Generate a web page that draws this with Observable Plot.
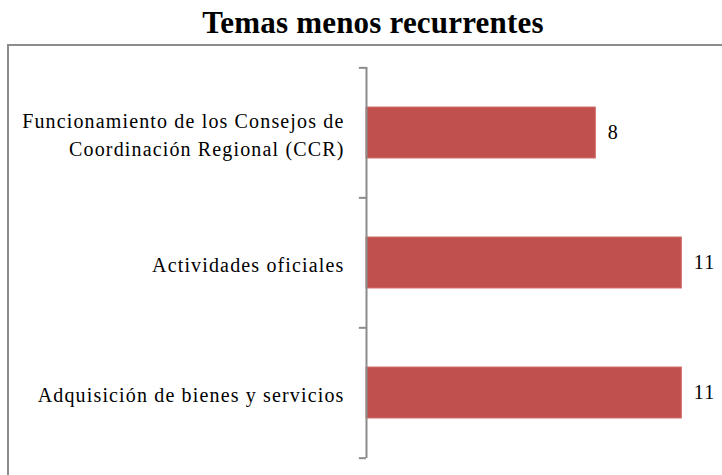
<!DOCTYPE html>
<html>
<head>
<meta charset="utf-8">
<script src="https://cdn.jsdelivr.net/npm/d3@7"></script>
<script src="https://cdn.jsdelivr.net/npm/@observablehq/plot@0.6"></script>
<style>
  html, body { margin: 0; padding: 0; background: #fff; }
  #wrap { position: relative; width: 722px; height: 475px; overflow: hidden; font-family: "Liberation Serif", serif; }
  #title { position: absolute; top: 5px; left: 12px; width: 722px; text-align: center; font-weight: bold; font-size: 31px; color: #000; line-height: 36px; letter-spacing: 0.2px; }
  #frame { position: absolute; left: 7px; top: 44px; width: 800px; height: 600px; border-left: 2px solid #8c8c8c; border-top: 2px solid #8c8c8c; box-sizing: border-box; }
  #chart { position: absolute; left: 0; top: 45px; }
</style>
</head>
<body>
<div id="wrap">
  <div id="title">Temas menos recurrentes</div>
  <div id="frame"></div>
  <div id="chart"></div>
</div>
<script>
const categories = [
  "Funcionamiento de los Consejos de\nCoordinación Regional (CCR)",
  "Actividades oficiales",
  "Adquisición de bienes y servicios"
];
const values = [8, 11, 11];

const data = categories.map((c, i) => ({ tema: c, n: values[i] }));

const H = 430;
const mTop = 22, mBottom = 17;
const step = (H - mTop - mBottom) / categories.length;

const chart = Plot.plot({
  width: 722,
  height: H,
  marginLeft: 366,
  marginRight: 12,
  marginTop: mTop,
  marginBottom: mBottom,
  style: { fontFamily: "'Liberation Serif', serif", fontSize: "20px", letterSpacing: "1.15px", color: "#000", background: "transparent" },
  x: { domain: [0, 12], axis: null },
  y: { domain: categories, paddingInner: 0.61, paddingOuter: 0.305, label: null },
  marks: [
    Plot.barX(data, { x: "n", y: "tema", fill: "#C0504D", stroke: "#d2706d", strokeWidth: 1 }),
    Plot.text(data, { x: "n", y: "tema", text: d => String(d.n), textAnchor: "start", dx: 12, fontSize: 20, fill: "#000" }),
    Plot.axisY({ tickSize: 0, tickPadding: 22, fontSize: 20, lineHeight: 1.4, textAnchor: "end", fill: "#000" }),
    Plot.ruleX([0], { stroke: "#8c8c8c", strokeWidth: 2 }),
    Plot.ruleY(categories, { y: d => d, x1: 0, x2: -0.25, dy: -step / 2, stroke: "#8c8c8c", strokeWidth: 2 }),
    Plot.ruleY(categories.slice(-1), { y: d => d, x1: 0, x2: -0.25, dy: step / 2, stroke: "#8c8c8c", strokeWidth: 2 })
  ]
});
document.getElementById("chart").appendChild(chart);
</script>
</body>
</html>
